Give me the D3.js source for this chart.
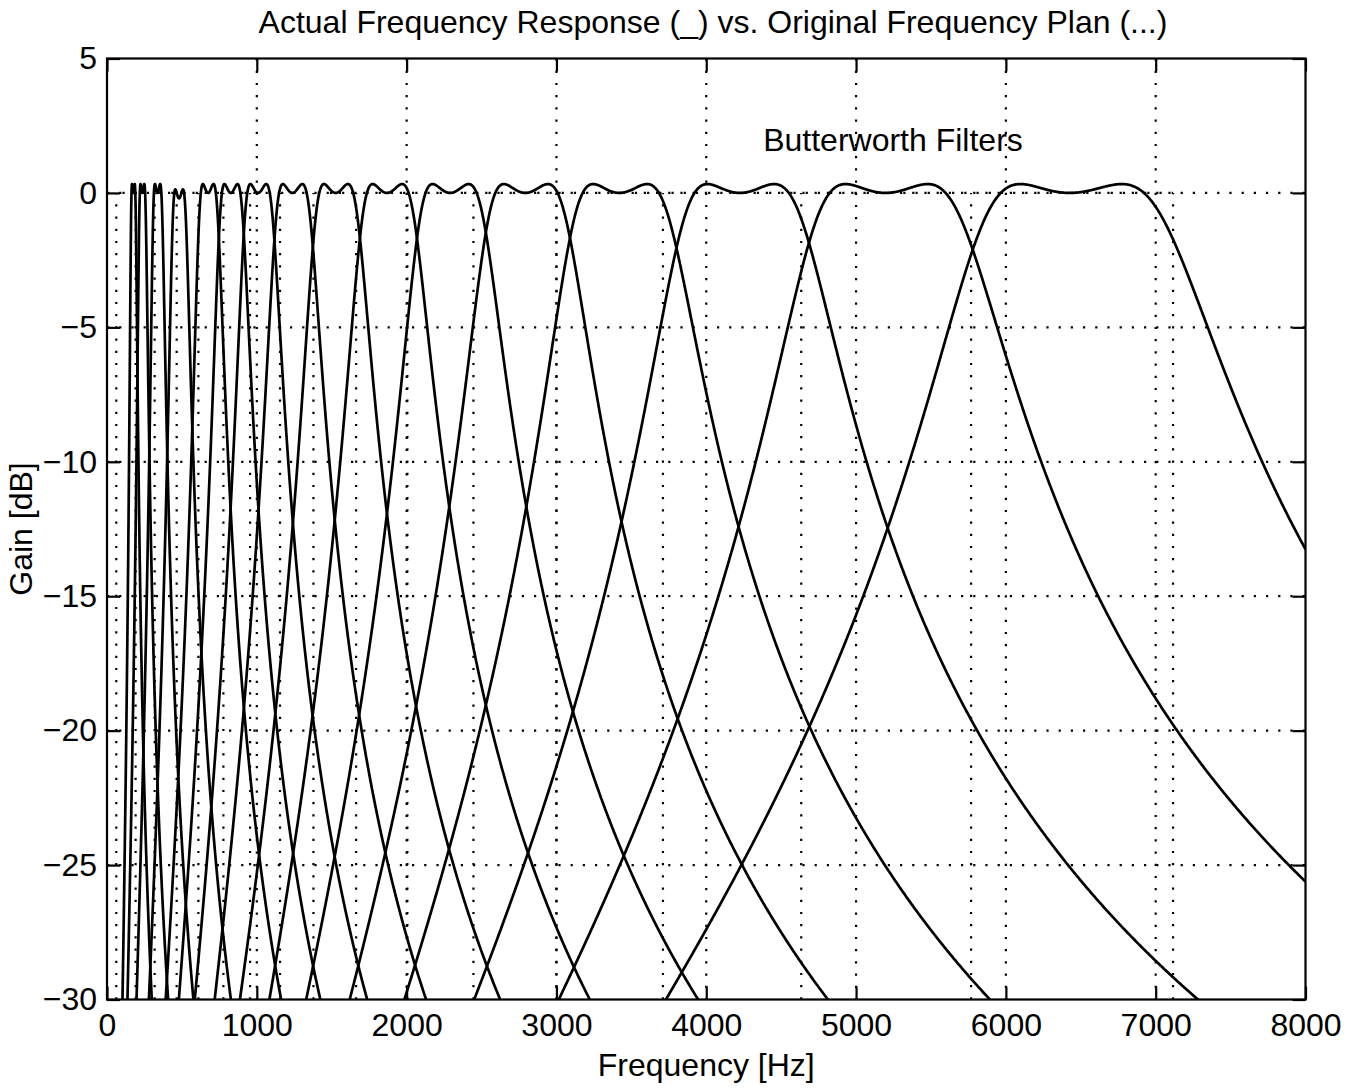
<!DOCTYPE html>
<html>
<head>
<meta charset="utf-8">
<script src="https://cdn.jsdelivr.net/npm/d3@7"></script>
<style>
  html, body { margin: 0; padding: 0; background: #fff; }
  svg { display: block; }
  text { font-family: "Liberation Sans", Arial, Helvetica, sans-serif; fill: #000; }
</style>
</head>
<body>
<svg id="chart" width="1355" height="1088"></svg>
<script>
// Axis ticks
const freqTicks = [0, 1000, 2000, 3000, 4000, 5000, 6000, 7000, 8000];
const gainTicks = [5, 0, -5, -10, -15, -20, -25, -30];

// Filter bank: frequencies [Hz] of the two passband ripple peaks of each band-pass filter
const peakLowHz  = [167, 224, 320, 456, 640, 784, 957, 1174, 1448, 1773, 2173, 2649, 3245, 4008, 4930, 6097];
const peakHighHz = [185, 249, 355, 507, 711, 871, 1063, 1304, 1608, 1970, 2414, 2943, 3605, 4453, 5477, 6773];
// Level offset of each filter's passband [dB]
const peakOffsetDb = [0, 0, 0, -0.2, 0, 0, 0, 0, 0, 0, 0, 0, 0, 0, 0, 0];
// Passband ripple height [dB]
const rippleDb = 0.33;

// Original frequency plan: band edges [Hz]
const planEdgesHz = [62, 191, 318, 465, 610, 777, 955, 1155, 1378, 1663, 2005, 2446, 3000, 3711, 4634, 5768, 7116];

const svg = d3.select("#chart");
const plot = { left: 107, right: 1305.5, top: 58.5, bottom: 999.5 };

const x = d3.scaleLinear().domain([0, 8000]).range([plot.left, plot.right]);
const y = d3.scaleLinear().domain([-30, 5]).range([plot.bottom, plot.top]);

const dotted = "2.2,10";

// Grid
const grid = svg.append("g");
grid.selectAll("line.vg")
  .data(freqTicks.slice(1, -1))
  .join("line")
  .attr("x1", d => x(d)).attr("x2", d => x(d))
  .attr("y1", plot.top).attr("y2", plot.bottom)
  .attr("stroke", "#000").attr("stroke-width", 2.2)
  .attr("stroke-dasharray", dotted);
grid.selectAll("line.hg")
  .data(gainTicks.slice(1, -1))
  .join("line")
  .attr("x1", plot.left).attr("x2", plot.right)
  .attr("y1", d => y(d)).attr("y2", d => y(d))
  .attr("stroke", "#000").attr("stroke-width", 2.2)
  .attr("stroke-dasharray", dotted);

// Clip to the axes box
svg.append("clipPath").attr("id", "plotClip")
  .append("rect")
  .attr("x", plot.left).attr("y", plot.top)
  .attr("width", plot.right - plot.left).attr("height", plot.bottom - plot.top);

// Original frequency plan (dotted band edges up to 0 dB)
const plan = svg.append("g").attr("clip-path", "url(#plotClip)");
plan.selectAll("line.edge")
  .data(planEdgesHz)
  .join("line")
  .attr("x1", d => x(d)).attr("x2", d => x(d))
  .attr("y1", y(-30)).attr("y2", y(0))
  .attr("stroke", "#000").attr("stroke-width", 2.2)
  .attr("stroke-dasharray", dotted);
plan.append("line")
  .attr("x1", x(planEdgesHz[0])).attr("x2", x(planEdgesHz[planEdgesHz.length - 1]))
  .attr("y1", y(0)).attr("y2", y(0))
  .attr("stroke", "#000").attr("stroke-width", 2.2)
  .attr("stroke-dasharray", dotted)
  .attr("stroke-dashoffset", 6);

// Magnitude response of a fourth-order band-pass with a small equiripple passband,
// parameterised by its two passband peak frequencies.
const rippleA = Math.pow(10, rippleDb / 10) - 1;
function responseDb(f, lo, hi, off) {
  const c = Math.sqrt(lo * hi);
  const zh = hi / c - c / hi;
  const z = (f / c - c / f) / zh;
  const p = z * z - 1;
  return 10 * Math.log10((1 + rippleA) / (1 + rippleA * p * p)) + off;
}

const filters = peakLowHz.map((lo, i) => {
  const hi = peakHighHz[i];
  const c = Math.sqrt(lo * hi);
  const f0 = Math.max(1, c / 2.3), f1 = Math.min(8000, c * 2.3);
  const n = 1600;
  return d3.range(n + 1).map(k => {
    const f = f0 * Math.pow(f1 / f0, k / n);
    return [f, Math.max(-40, responseDb(f, lo, hi, peakOffsetDb[i]))];
  });
});

const line = d3.line().x(d => x(d[0])).y(d => y(d[1]));
svg.append("g").attr("clip-path", "url(#plotClip)")
  .selectAll("path")
  .data(filters)
  .join("path")
  .attr("d", line)
  .attr("fill", "none")
  .attr("stroke", "#000")
  .attr("stroke-width", 2.7)
  .attr("stroke-linejoin", "round");

// Axes box with inward ticks on all four sides
const axes = svg.append("g");
const tickLen = 13;
axes.append("rect")
  .attr("x", plot.left).attr("y", plot.top)
  .attr("width", plot.right - plot.left).attr("height", plot.bottom - plot.top)
  .attr("fill", "none").attr("stroke", "#000").attr("stroke-width", 2.2);

axes.append("g")
  .attr("transform", `translate(0,${plot.bottom})`)
  .call(d3.axisBottom(x).tickValues(freqTicks).tickSizeInner(-tickLen).tickSizeOuter(0).tickPadding(14).tickFormat(d3.format("d")))
  .call(g => g.select(".domain").remove());
axes.append("g")
  .attr("transform", `translate(0,${plot.top})`)
  .call(d3.axisTop(x).tickValues(freqTicks).tickSizeInner(-tickLen).tickSizeOuter(0).tickFormat(""))
  .call(g => g.select(".domain").remove());
axes.append("g")
  .attr("transform", `translate(${plot.left},0)`)
  .call(d3.axisLeft(y).tickValues(gainTicks).tickSizeInner(-tickLen).tickSizeOuter(0).tickPadding(10)
    .tickFormat(d => d < 0 ? "\u2212" + Math.abs(d) : String(d)))
  .call(g => g.select(".domain").remove());
axes.append("g")
  .attr("transform", `translate(${plot.right},0)`)
  .call(d3.axisRight(y).tickValues(gainTicks).tickSizeInner(-tickLen).tickSizeOuter(0).tickFormat(""))
  .call(g => g.select(".domain").remove());

axes.selectAll(".tick line").attr("stroke", "#000").attr("stroke-width", 2.2);
axes.selectAll(".tick text")
  .style("font-size", "32px")
  .style("font-family", "'Liberation Sans', Arial, sans-serif")
  .attr("fill", "#000");

// Labels
svg.append("text")
  .attr("x", 713).attr("y", 33)
  .attr("text-anchor", "middle")
  .style("font-size", "32px")
  .text("Actual Frequency Response (_) vs. Original Frequency Plan (...)");

svg.append("text")
  .attr("x", (plot.left + plot.right) / 2)
  .attr("y", 1076)
  .attr("text-anchor", "middle")
  .style("font-size", "32px")
  .text("Frequency [Hz]");

svg.append("text")
  .attr("transform", `translate(32,${(plot.top + plot.bottom) / 2}) rotate(-90)`)
  .attr("text-anchor", "middle")
  .style("font-size", "32px")
  .text("Gain [dB]");

svg.append("text")
  .attr("x", x(4380)).attr("y", y(1.55))
  .style("font-size", "32px")
  .text("Butterworth Filters");
</script>
</body>
</html>
